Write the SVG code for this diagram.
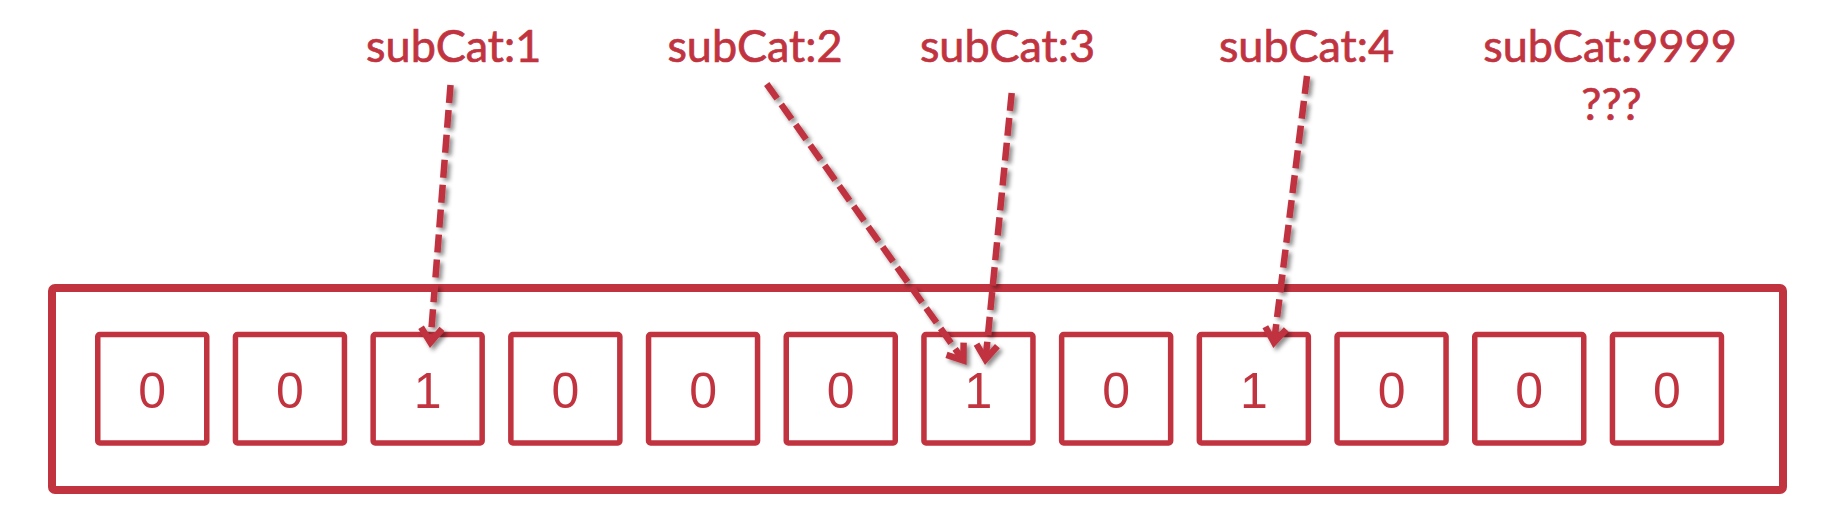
<svg xmlns="http://www.w3.org/2000/svg" width="1825" height="521" viewBox="0 0 1825 521">
<style>
.lbl{font-family:Lato,"Noto Sans",sans-serif;font-size:45px;fill:#C1333F;stroke:#C1333F;stroke-width:0.7;text-anchor:middle}
.cell rect{fill:#fff;stroke:#C1333F;stroke-width:5.5}
.cell text{font-family:"Liberation Sans",Arial,sans-serif;font-size:50px;fill:#C1333F;text-anchor:middle}
.arrow{fill:none;stroke:#C1333F;stroke-width:6.5;stroke-dasharray:18 7;marker-end:url(#ah)}
</style>
<defs>
<filter id="sh" x="-50%" y="-10%" width="200%" height="120%">
<feDropShadow dx="3" dy="3" stdDeviation="2.2" flood-color="#000" flood-opacity="0.45"/>
</filter>
<marker id="ah" markerUnits="userSpaceOnUse" viewBox="-20 -20 40 40" refX="0" refY="0" markerWidth="40" markerHeight="40" orient="auto" overflow="visible">
<path d="M-12,-10.5 L2.5,0 L-12,10.5" fill="none" stroke="#C1333F" stroke-width="6.5" stroke-linejoin="miter"/>
</marker>
</defs>
<rect width="1825" height="521" fill="#fff"/>
<g id="container">
<rect x="52" y="288" width="1731" height="202" rx="3" fill="none" stroke="#C1333F" stroke-width="8"/>
</g>
<g id="labels">
<text id="label-subcat1" class="lbl" x="453.7" y="62">subCat:1</text>
<text id="label-subcat2" class="lbl" x="755" y="62">subCat:2</text>
<text id="label-subcat3" class="lbl" x="1007.5" y="62">subCat:3</text>
<text id="label-subcat4" class="lbl" x="1306.5" y="62">subCat:4</text>
<g id="label-subcat9999">
<text class="lbl" x="1610" y="62">subCat:9999</text>
<text class="lbl" x="1611.5" y="120">???</text>
</g>
</g>
<g id="cells">
<g id="cell0" class="cell"><rect x="97.75" y="334.5" width="109" height="108.5" rx="2"/><text x="152.25" y="407.5">0</text></g>
<g id="cell1" class="cell"><rect x="235.45" y="334.5" width="109" height="108.5" rx="2"/><text x="289.95" y="407.5">0</text></g>
<g id="cell2" class="cell"><rect x="373.15" y="334.5" width="109" height="108.5" rx="2"/><text x="427.65" y="407.5">1</text></g>
<g id="cell3" class="cell"><rect x="510.85" y="334.5" width="109" height="108.5" rx="2"/><text x="565.35" y="407.5">0</text></g>
<g id="cell4" class="cell"><rect x="648.55" y="334.5" width="109" height="108.5" rx="2"/><text x="703.05" y="407.5">0</text></g>
<g id="cell5" class="cell"><rect x="786.25" y="334.5" width="109" height="108.5" rx="2"/><text x="840.75" y="407.5">0</text></g>
<g id="cell6" class="cell"><rect x="923.95" y="334.5" width="109" height="108.5" rx="2"/><text x="978.45" y="407.5">1</text></g>
<g id="cell7" class="cell"><rect x="1061.65" y="334.5" width="109" height="108.5" rx="2"/><text x="1116.15" y="407.5">0</text></g>
<g id="cell8" class="cell"><rect x="1199.35" y="334.5" width="109" height="108.5" rx="2"/><text x="1253.85" y="407.5">1</text></g>
<g id="cell9" class="cell"><rect x="1337.05" y="334.5" width="109" height="108.5" rx="2"/><text x="1391.55" y="407.5">0</text></g>
<g id="cell10" class="cell"><rect x="1474.75" y="334.5" width="109" height="108.5" rx="2"/><text x="1529.25" y="407.5">0</text></g>
<g id="cell11" class="cell"><rect x="1612.45" y="334.5" width="109" height="108.5" rx="2"/><text x="1666.95" y="407.5">0</text></g>
</g>
<g id="connectors" filter="url(#sh)">
<path class="arrow" d="M450.5,85 L430.6,340"/>
<path class="arrow" d="M766.7,84 L962,358.5"/>
<path class="arrow" d="M1011.7,93 L985.8,357"/>
<path class="arrow" d="M1307,76 L1274.3,340"/>
</g>
</svg>
